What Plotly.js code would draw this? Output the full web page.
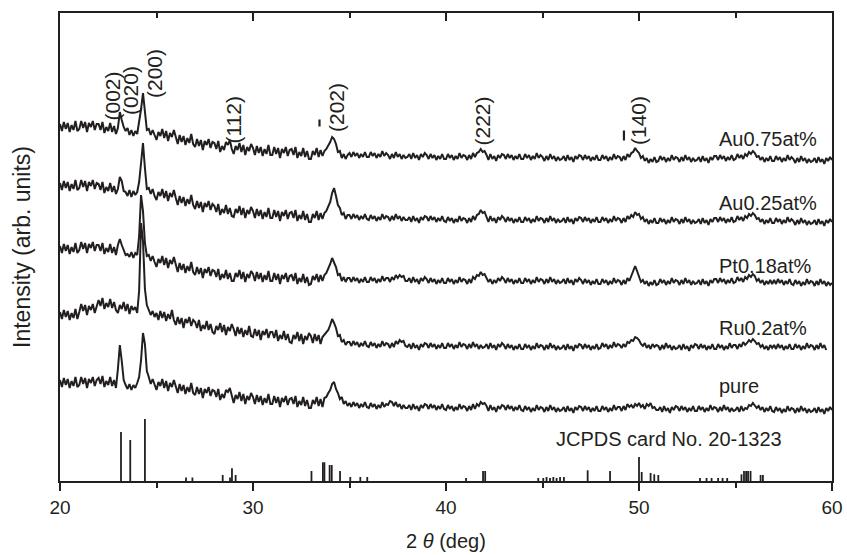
<!DOCTYPE html>
<html>
<head>
<meta charset="utf-8">
<script src="https://cdn.plot.ly/plotly-3.0.1.min.js"></script>
<style>html,body{margin:0;padding:0;background:#fff;}#chart{width:847px;height:555px;}</style>
</head>
<body>
<div id="chart"></div>
<script>
// 2θ sampling grid of the scans: 20.0 .. 60.0 deg, step 0.1
const thetaStart = 20.0;
const thetaStep = 0.1;
const thetaCount = 401;

// Offset-stacked intensities (arb. units), one value per 0.1 deg
const pure = [
101,94,103,96,102,93,100,95,104,94,
96,104,97,103,93,102,98,104,95,101,
103,97,105,94,100,96,104,95,101,93,
112,136,120,101,96,92,97,91,96,93,
98,104,121,148,137,110,104,97,102,96,
91,99,95,102,93,100,90,98,94,101,
95,88,97,90,96,87,94,89,98,88,
86,94,87,93,83,92,88,94,85,91,
90,84,92,81,87,83,91,89,93,84,
78,86,82,89,80,87,77,85,81,88,
84,77,86,79,85,76,83,78,87,77,
77,85,78,84,74,83,79,85,76,82,
83,77,85,74,80,76,84,75,81,73,
73,81,77,84,75,82,74,83,84,88,
91,97,99,92,88,82,84,77,80,75,
78,74,79,75,78,73,77,74,79,74,
73,78,74,77,72,76,73,79,74,77,
76,80,79,75,79,74,77,72,76,73,
73,76,71,77,72,75,70,76,73,77,
76,72,77,73,76,71,75,72,77,72,
71,76,72,75,70,74,71,77,72,75,
74,70,75,71,77,72,77,75,79,77,
78,75,70,76,71,74,69,75,72,76,
75,71,76,72,75,70,74,71,76,71,
70,75,71,74,69,73,70,76,71,74,
73,69,74,70,76,71,74,69,73,70,
71,74,69,75,70,73,68,74,71,75,
74,70,75,71,74,69,73,70,75,70,
70,75,71,74,69,73,70,76,71,74,
74,70,75,71,77,74,76,73,77,75,
78,74,76,72,77,75,78,73,74,71,
71,74,69,75,70,73,68,74,71,75,
74,70,75,71,74,69,73,70,75,70,
70,75,71,74,69,73,70,76,71,74,
73,69,74,70,76,71,74,69,73,70,
71,74,69,75,70,73,72,76,75,78,
76,73,75,71,74,69,73,70,75,70,
69,74,70,73,68,72,69,75,70,73,
72,68,73,69,75,70,73,68,72,69,
70,73,68,74,69,72,67,73,70,74,
71];

const ru02 = [
169,162,171,164,170,161,168,163,172,162,
169,177,170,176,166,175,171,177,168,174,
181,175,183,172,178,174,182,173,179,171,
168,176,172,179,170,177,167,175,171,174,
168,190,258,240,192,176,171,166,170,164,
168,161,170,163,169,160,167,162,171,161,
156,164,157,163,153,162,158,164,155,161,
159,153,161,150,156,152,160,151,157,149,
147,155,151,158,149,156,146,154,150,157,
152,145,154,147,153,144,151,146,155,145,
144,152,145,151,141,150,146,152,143,149,
149,143,151,140,146,142,150,141,147,139,
138,146,142,149,140,147,137,145,141,148,
145,138,147,140,146,137,144,146,148,151,
156,162,158,153,145,146,139,141,136,139,
139,135,140,136,139,134,138,135,140,135,
134,139,135,138,133,137,134,140,135,138,
137,133,138,134,140,137,141,139,140,135,
134,137,132,138,133,136,131,137,134,138,
137,133,138,134,137,132,136,133,138,133,
133,138,134,137,132,136,133,139,134,137,
136,132,137,133,139,134,137,132,136,133,
134,137,132,138,133,136,131,137,134,138,
136,132,137,133,136,131,135,132,137,132,
132,137,133,136,131,135,132,138,133,136,
135,131,136,132,138,133,136,131,135,132,
133,136,131,137,132,135,130,136,133,137,
136,132,137,133,136,131,135,132,137,132,
133,138,134,137,132,136,133,139,134,137,
136,133,137,134,139,138,141,140,144,143,
141,137,135,138,133,136,132,137,134,136,
135,131,136,132,138,133,136,131,135,132,
133,136,131,137,132,135,130,136,133,137,
136,132,137,133,136,131,135,132,137,132,
132,137,133,136,131,135,132,138,133,136,
136,132,137,134,139,136,138,141,139,142,
140,137,138,134,136,132,135,131,136,133,
136,132,137,133,136,131,135,132,137,132,
132,137,133,136,131,135,132,138,133,136,
135,131,136,132,138,133,136,131,null,null,
null];

const pt018 = [
235,228,237,230,236,227,234,229,238,228,
231,239,232,238,228,237,233,239,230,236,
236,230,238,227,233,229,237,228,234,226,
236,242,236,230,226,227,224,229,223,228,
226,245,286,270,238,225,226,220,225,219,
214,222,218,225,216,223,213,221,217,224,
216,209,218,211,217,208,215,210,219,209,
206,214,207,213,203,212,208,214,205,211,
210,204,212,201,207,203,211,202,208,200,
200,208,204,211,202,209,199,207,203,210,
207,200,209,202,208,199,206,201,210,200,
200,208,201,207,197,206,202,208,199,205,
206,200,208,197,203,199,207,198,204,196,
197,205,201,207,199,206,200,206,208,212,
217,223,219,214,206,207,200,204,199,203,
203,199,204,200,203,198,202,199,204,199,
199,204,200,203,198,202,199,205,200,203,
203,199,204,201,206,203,206,204,205,200,
200,203,198,204,199,202,197,203,200,204,
202,198,203,199,202,197,201,198,203,198,
198,203,199,202,197,201,198,204,199,202,
201,197,202,198,204,202,206,205,209,206,
207,203,199,202,197,201,198,203,200,204,
202,198,203,199,202,197,201,198,203,198,
198,203,199,202,197,201,198,204,199,202,
201,197,202,198,204,199,202,197,201,198,
199,202,197,203,198,201,196,202,199,203,
201,197,202,198,201,196,200,197,202,197,
197,202,198,201,196,200,197,203,198,201,
200,196,201,197,203,200,205,209,215,210,
204,199,201,197,200,195,199,196,201,196,
197,202,198,201,196,200,197,203,198,201,
200,196,201,197,203,198,201,196,200,197,
198,201,196,202,197,200,195,201,198,202,
202,198,203,199,202,197,201,198,203,198,
199,204,200,203,199,204,202,206,204,207,
205,200,202,198,201,196,200,197,201,197,
201,197,202,198,201,196,200,197,202,197,
196,201,197,200,195,199,196,202,197,200,
199,195,200,196,202,197,200,195,199,196,
198];

const au025 = [
298,291,300,293,299,290,297,292,301,291,
293,301,294,300,290,299,295,301,292,298,
297,291,299,288,294,290,298,289,295,287,
292,304,300,290,289,285,291,284,290,286,
289,299,318,338,313,292,293,287,292,285,
281,289,285,292,283,290,280,288,284,291,
283,276,285,278,284,275,282,277,286,276,
272,280,273,279,269,278,274,280,271,277,
275,269,277,266,272,268,276,267,273,265,
264,272,268,275,266,273,263,271,267,274,
270,263,272,265,271,262,269,264,273,263,
263,271,264,270,260,269,265,271,262,268,
269,263,271,260,266,262,270,261,267,259,
259,267,263,270,261,268,262,268,270,274,
279,288,293,285,276,273,266,268,262,266,
266,262,267,263,266,261,265,262,267,262,
261,266,262,265,260,264,261,267,262,265,
264,260,265,261,267,262,265,260,264,261,
261,264,259,265,260,263,258,264,261,265,
264,260,265,261,264,259,263,260,265,260,
259,264,260,263,258,262,259,265,260,263,
262,258,263,259,265,261,266,267,271,268,
269,264,259,265,260,263,258,264,261,265,
263,259,264,260,263,258,262,259,264,259,
259,264,260,263,258,262,259,265,260,263,
262,258,263,259,265,260,263,258,262,259,
260,263,258,264,259,262,257,263,260,264,
263,259,264,260,263,258,262,259,264,259,
259,264,260,263,258,262,259,265,260,263,
262,258,263,259,265,262,266,264,269,266,
267,262,264,259,262,257,261,258,263,258,
258,263,259,262,257,261,258,264,259,262,
261,257,262,258,264,259,262,257,261,258,
259,262,257,263,258,261,256,262,259,263,
263,259,264,260,263,258,262,259,264,259,
260,265,261,264,260,265,263,267,265,268,
266,262,263,259,262,257,261,258,263,258,
258,263,259,262,257,261,258,264,259,262,
260,256,261,257,263,258,261,256,260,257,
258,261,256,262,257,260,255,261,258,262,
259];

const au075 = [
357,350,359,352,358,349,356,351,360,350,
352,360,353,359,349,358,354,360,351,357,
357,351,359,348,354,350,358,349,355,347,
353,369,361,354,350,353,346,351,345,350,
347,359,372,388,366,351,352,346,351,345,
341,349,345,352,343,350,340,348,344,351,
344,337,346,339,345,336,343,338,347,337,
334,342,335,341,331,340,336,342,333,339,
338,332,340,329,335,331,339,336,341,332,
327,335,331,338,329,336,326,334,330,337,
333,326,335,328,334,325,332,327,336,326,
326,334,327,333,323,332,328,334,325,331,
332,326,334,323,329,325,333,324,330,322,
322,330,326,333,324,331,325,330,332,335,
339,344,342,337,329,330,323,327,322,326,
328,324,329,325,328,323,327,324,329,324,
324,329,325,328,323,327,324,330,325,328,
326,322,327,323,329,324,327,322,326,323,
324,327,322,328,323,326,321,327,324,328,
326,322,327,323,326,321,325,322,327,322,
322,327,323,326,321,325,322,328,323,326,
325,321,326,322,328,324,328,329,332,329,
330,326,321,327,322,325,320,326,323,327,
326,322,327,323,326,321,325,322,327,322,
322,327,323,326,321,325,322,328,323,326,
324,320,325,321,327,322,325,320,324,321,
322,325,320,326,321,324,319,325,322,326,
325,321,326,322,325,320,324,321,326,321,
321,326,322,325,320,324,321,327,322,325,
324,320,325,321,327,324,328,329,333,330,
328,323,325,320,323,318,322,319,324,319,
320,325,321,324,319,323,320,326,321,324,
323,319,324,320,326,321,324,319,323,320,
321,324,319,325,320,323,318,324,321,325,
325,321,326,322,325,320,324,321,326,321,
322,327,323,326,322,327,325,329,327,330,
328,324,325,321,324,319,323,320,325,320,
320,325,321,324,319,323,320,326,321,324,
322,318,323,319,325,320,323,318,322,319,
320,323,318,324,319,322,317,323,320,324,
321];

// JCPDS card No. 20-1323 reference lines
const cardPos = [23.16,23.64,24.40,26.53,26.86,28.43,28.81,28.91,29.10,33.03,33.62,33.70,33.97,34.08,34.51,35.04,35.56,35.92,
  41.04,41.92,42.03,44.78,45.04,45.21,45.39,45.56,45.73,45.91,46.11,47.34,48.50,50.00,50.14,50.60,50.79,51.00,
  53.16,53.50,53.76,54.10,54.33,54.57,55.31,55.44,55.55,55.65,55.78,56.30,56.42];
const cardInt = [49,41,62,3.5,3.5,6,3.5,12.7,6,10,18.7,18.7,16,16,10,4,4,4,
  3,10,10,3,3,4,3,4,3,4,4,10.7,10,24,9,8,6.7,6,
  3,3,3,3,3,3,6.7,10,10,10,10,6,6];

// Text
const sampleNames = ["Au0.75at%","Au0.25at%","Pt0.18at%","Ru0.2at%","pure"];
const cardLabel = "JCPDS card No. 20-1323";
const peakLabels = ["(002)","(020)","(200)","(112)","(202)","(222)","(140)"];
const barredPeaks = [4, 6];   // peak labels whose first index carries an overbar
const xTickVals = [20,30,40,50,60];
const xTickText = ["20","30","40","50","60"];

// ---------- build ----------
const theta = [];
for (let i = 0; i < thetaCount; i++) theta.push(+(thetaStart + i*thetaStep).toFixed(2));

const ink = '#231f20';
const series = [au075, au025, pt018, ru02, pure];
const traces = series.map((ys, k) => ({
  type: 'scatter', mode: 'lines', x: theta, y: ys, name: sampleNames[k],
  line: {color: ink, width: 2}, hoverinfo: 'skip', connectgaps: false
}));
const sx = [], sy = [];
cardPos.forEach((p, i) => { sx.push(p, p, null); sy.push(0, cardInt[i], null); });
traces.push({type:'scatter', mode:'lines', x: sx, y: sy, line:{color: ink, width: 1.8}, hoverinfo:'skip'});
// top axis carrier (invisible)
traces.push({type:'scatter', mode:'markers', x:[20,60], y:[0,0], xaxis:'x2', marker:{opacity:0}, hoverinfo:'skip'});

const font = 'Liberation Sans, Arial, Helvetica, sans-serif';
const labelPos = [[54.04,342],[54.04,278],[54.04,215],[54.04,153],[54.04,95]];
const peakPos = [[22.67,385],[23.63,390],[24.87,408],[28.94,361],[34.30,374],[41.89,360],[49.95,360]];
const barPos = {4: [33.445, 354.5, 361.5], 6: [49.22, 340.5, 350.5]};
const annotations = [];
sampleNames.forEach((t, i) => annotations.push({x: labelPos[i][0], y: labelPos[i][1], xref:'x', yref:'y', text: t,
  showarrow:false, xanchor:'left', yanchor:'middle', font:{family: font, size: 20, color: ink}}));
annotations.push({x: 45.6, y: 42, xref:'x', yref:'y', text: cardLabel, showarrow:false, xanchor:'left', yanchor:'middle',
  font:{family: font, size: 20, color: ink}});
peakLabels.forEach((t, i) => annotations.push({x: peakPos[i][0], y: peakPos[i][1], xref:'x', yref:'y', text: t,
  textangle: -90, showarrow:false, xanchor:'center', yanchor:'middle', font:{family: font, size: 21, color: ink}}));
const shapes = barredPeaks.map(i => ({type:'line', xref:'x', yref:'y',
  x0: barPos[i][0], x1: barPos[i][0], y0: barPos[i][1], y1: barPos[i][2], line:{color: ink, width: 2.2}}));

const layout = {
  width: 847, height: 555,
  margin: {l: 60, r: 15, t: 13, b: 74},
  paper_bgcolor: '#fff', plot_bgcolor: '#fff',
  showlegend: false,
  font: {family: font, color: ink, size: 19},
  xaxis: {
    range: [20, 60], showgrid: false, zeroline: false,
    showline: true, linecolor: ink, linewidth: 2,
    ticks: 'outside', ticklen: 8, tickwidth: 2, tickcolor: ink,
    tickvals: xTickVals, ticktext: xTickText,
    tickfont: {family: font, size: 19, color: ink},
    minor: {tickvals: [25,35,45,55], ticks: 'outside', ticklen: 5, tickwidth: 2, tickcolor: ink},
    title: {text: '2 <i>θ</i> (deg)', font: {family: font, size: 20, color: ink}, standoff: 17}
  },
  xaxis2: {
    overlaying: 'x', side: 'top', range: [20, 60], showgrid: false, zeroline: false,
    showline: true, linecolor: ink, linewidth: 2,
    ticks: 'inside', ticklen: 8, tickwidth: 2, tickcolor: ink,
    tickvals: xTickVals, showticklabels: false,
    minor: {tickvals: [25,35,45,55], ticks: 'inside', ticklen: 5, tickwidth: 2, tickcolor: ink}
  },
  yaxis: {
    range: [0, 468], showgrid: false, zeroline: false, showticklabels: false, ticks: '',
    showline: true, mirror: true, linecolor: ink, linewidth: 2,
    title: {text: 'Intensity (arb. units)', font: {family: font, size: 23, color: ink}, standoff: 21}
  },
  annotations: annotations,
  shapes: shapes
};

Plotly.newPlot('chart', traces, layout, {staticPlot: true, displayModeBar: false});
</script>
</body>
</html>
